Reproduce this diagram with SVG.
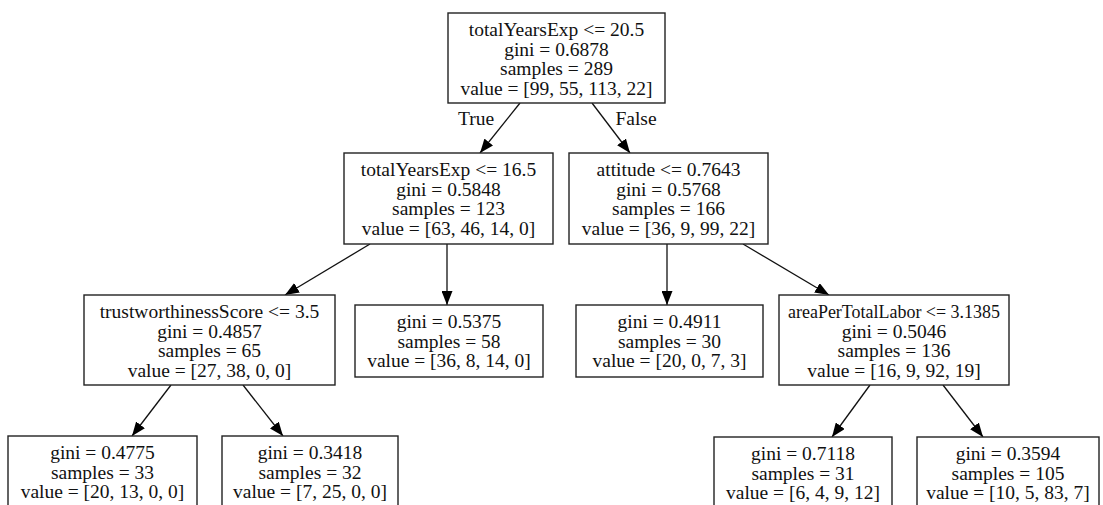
<svg xmlns="http://www.w3.org/2000/svg" width="1103" height="505" viewBox="0 0 1103 505">
<defs>
<style>
.box{fill:#fff;stroke:#222;stroke-width:1.4}
.t{font-family:"Liberation Serif","Times New Roman",serif;font-size:19.5px;fill:#111;text-anchor:middle}
.e{stroke:#111;stroke-width:1.3;fill:none;marker-end:url(#ah)}
</style>
<marker id="ah" viewBox="0 0 14 11" refX="14" refY="5.5" markerWidth="14" markerHeight="11" markerUnits="userSpaceOnUse" orient="auto">
<path d="M0,0 L14,5.5 L0,11 z" fill="#000"/>
</marker>
</defs>
<rect width="1103" height="505" fill="#fff"/>
<g id="connectors">
<line class="e" x1="520" y1="103" x2="480" y2="153"/>
<line class="e" x1="592" y1="103" x2="630" y2="153"/>
<line class="e" x1="370" y1="244" x2="285" y2="295"/>
<line class="e" x1="447" y1="244" x2="447" y2="305"/>
<line class="e" x1="667" y1="244" x2="667" y2="305"/>
<line class="e" x1="743" y1="244" x2="829" y2="295"/>
<line class="e" x1="171" y1="385" x2="132" y2="436"/>
<line class="e" x1="243" y1="385" x2="283" y2="436"/>
<line class="e" x1="870" y1="385" x2="832" y2="437"/>
<line class="e" x1="943" y1="385" x2="983" y2="437"/>
<text class="t" x="476" y="125">True</text>
<text class="t" x="636" y="125">False</text>
</g>
<g id="n0">
<rect class="box" x="448" y="13" width="217" height="90"/>
<text class="t" x="556.5" y="36">totalYearsExp &lt;= 20.5</text>
<text class="t" x="556.5" y="55.5">gini = 0.6878</text>
<text class="t" x="556.5" y="75">samples = 289</text>
<text class="t" x="556.5" y="94.5">value = [99, 55, 113, 22]</text>
</g>
<g id="n1">
<rect class="box" x="344" y="153" width="209" height="91"/>
<text class="t" x="448.5" y="176">totalYearsExp &lt;= 16.5</text>
<text class="t" x="448.5" y="195.5">gini = 0.5848</text>
<text class="t" x="448.5" y="215">samples = 123</text>
<text class="t" x="448.5" y="234.5">value = [63, 46, 14, 0]</text>
</g>
<g id="n2">
<rect class="box" x="569" y="153" width="199" height="91"/>
<text class="t" x="668.5" y="176">attitude &lt;= 0.7643</text>
<text class="t" x="668.5" y="195.5">gini = 0.5768</text>
<text class="t" x="668.5" y="215">samples = 166</text>
<text class="t" x="668.5" y="234.5">value = [36, 9, 99, 22]</text>
</g>
<g id="n3">
<rect class="box" x="84" y="295" width="251" height="90"/>
<text class="t" x="209.5" y="318">trustworthinessScore &lt;= 3.5</text>
<text class="t" x="209.5" y="337.5">gini = 0.4857</text>
<text class="t" x="209.5" y="357">samples = 65</text>
<text class="t" x="209.5" y="376.5">value = [27, 38, 0, 0]</text>
</g>
<g id="n4">
<rect class="box" x="355" y="305" width="188" height="72"/>
<text class="t" x="449" y="328">gini = 0.5375</text>
<text class="t" x="449" y="347.5">samples = 58</text>
<text class="t" x="449" y="367">value = [36, 8, 14, 0]</text>
</g>
<g id="n5">
<rect class="box" x="576" y="305" width="187" height="72"/>
<text class="t" x="669.5" y="328">gini = 0.4911</text>
<text class="t" x="669.5" y="347.5">samples = 30</text>
<text class="t" x="669.5" y="367">value = [20, 0, 7, 3]</text>
</g>
<g id="n6">
<rect class="box" x="779" y="295" width="230" height="90"/>
<text class="t" x="894" y="318" textLength="212" lengthAdjust="spacingAndGlyphs">areaPerTotalLabor &lt;= 3.1385</text>
<text class="t" x="894" y="337.5">gini = 0.5046</text>
<text class="t" x="894" y="357">samples = 136</text>
<text class="t" x="894" y="376.5">value = [16, 9, 92, 19]</text>
</g>
<g id="n7">
<rect class="box" x="8" y="436" width="189" height="72"/>
<text class="t" x="102.5" y="459">gini = 0.4775</text>
<text class="t" x="102.5" y="478.5">samples = 33</text>
<text class="t" x="102.5" y="498">value = [20, 13, 0, 0]</text>
</g>
<g id="n8">
<rect class="box" x="222" y="436" width="176" height="72"/>
<text class="t" x="310" y="459">gini = 0.3418</text>
<text class="t" x="310" y="478.5">samples = 32</text>
<text class="t" x="310" y="498">value = [7, 25, 0, 0]</text>
</g>
<g id="n9">
<rect class="box" x="714" y="437" width="178" height="72"/>
<text class="t" x="803" y="460">gini = 0.7118</text>
<text class="t" x="803" y="479.5">samples = 31</text>
<text class="t" x="803" y="499">value = [6, 4, 9, 12]</text>
</g>
<g id="n10">
<rect class="box" x="917" y="437" width="182" height="72"/>
<text class="t" x="1008" y="460">gini = 0.3594</text>
<text class="t" x="1008" y="479.5">samples = 105</text>
<text class="t" x="1008" y="499">value = [10, 5, 83, 7]</text>
</g>
</svg>
